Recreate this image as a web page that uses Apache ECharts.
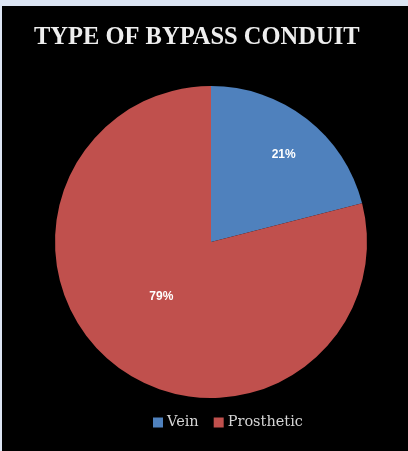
<!DOCTYPE html>
<html>
<head>
<meta charset="utf-8">
<script src="https://cdn.jsdelivr.net/npm/echarts@6/dist/echarts.min.js"></script>
<style>
html,body{margin:0;padding:0;background:#dce5f3;width:408px;height:451px;overflow:hidden;}
#chart{position:absolute;left:2px;top:6px;width:406px;height:445px;background:#000;}
</style>
</head>
<body>
<div id="chart"></div>
<script>
const titleText = 'TYPE OF BYPASS CONDUIT';
const categories = ['Vein', 'Prosthetic'];
const values = [21, 79];
const colors = ['#4f81bd', '#c0504d'];
const labelOffsets = [[23, -23], [0, -9]];

const chart = echarts.init(document.getElementById('chart'), null, {renderer: 'canvas'});
chart.setOption({
  backgroundColor: '#000',
  animation: false,
  title: {
    text: titleText,
    left: 27,
    top: 14,
    textStyle: {fontFamily: '"Liberation Serif", "Times New Roman", serif', fontWeight: 'bold', fontSize: 24.5, color: '#eeeeee'}
  },
  legend: {
    data: categories,
    bottom: 16,
    left: 146,
    itemWidth: 10,
    itemHeight: 10,
    itemGap: 15,
    icon: 'rect',
    textStyle: {fontFamily: '"DejaVu Serif", serif', fontSize: 14.5, color: '#d4d4d4', padding: [0, 0, 0, -1]}
  },
  series: [{
    type: 'pie',
    center: [209, 236],
    radius: [0, 156],
    startAngle: 90,
    clockwise: true,
    silent: true,
    itemStyle: {borderWidth: 0},
    label: {
      position: 'inside',
      formatter: '{c}%',
      fontFamily: 'Arial, "Liberation Sans", sans-serif',
      fontWeight: 'bold',
      fontSize: 12,
      color: '#ffffff'
    },
    labelLine: {show: false},
    data: categories.map((c, i) => ({
      name: c,
      value: values[i],
      itemStyle: {color: colors[i]},
      label: {offset: labelOffsets[i]}
    }))
  }]
});
</script>
</body>
</html>
